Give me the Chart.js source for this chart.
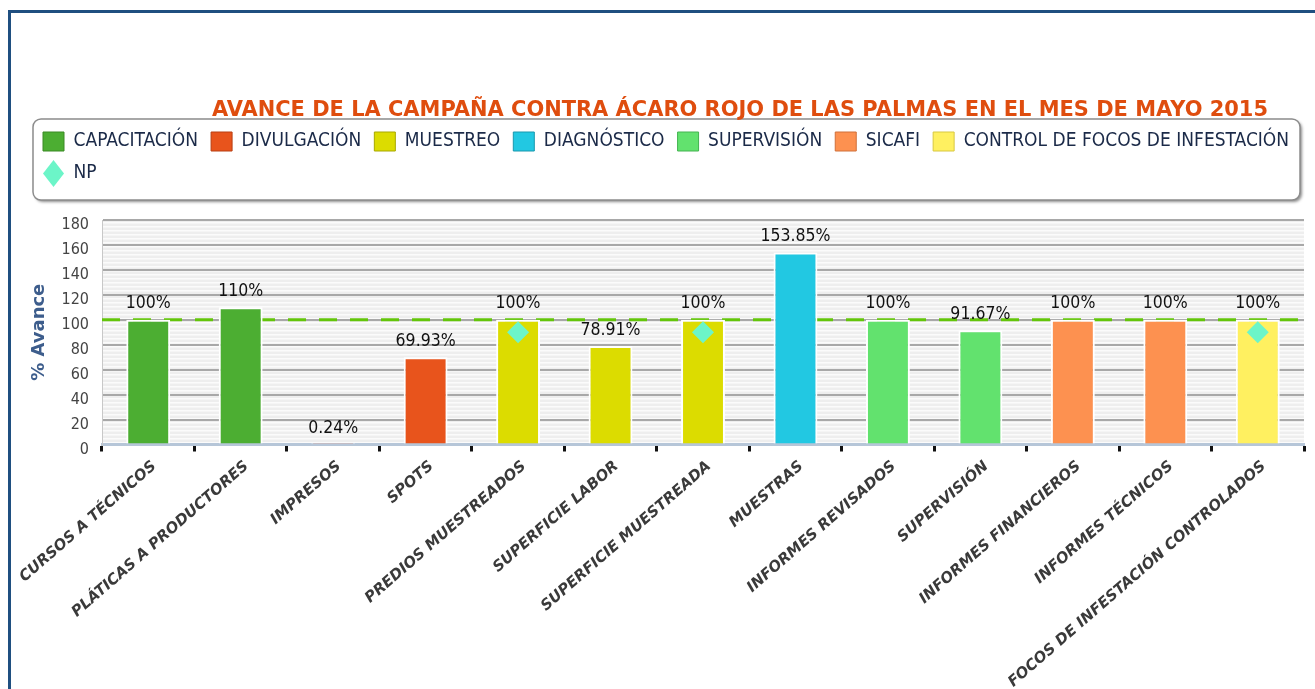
<!DOCTYPE html>
<html><head><meta charset="utf-8">
<script src="https://cdn.jsdelivr.net/npm/chart.js@4.4.1/dist/chart.umd.min.js"></script>
<style>
html,body{margin:0;padding:0;background:#fff;overflow:hidden;width:1315px;height:689px;}
#frame{position:absolute;left:8px;top:10px;width:1400px;height:800px;border-left:3px solid #1f4f80;border-top:3px solid #1f4f80;}
canvas{position:absolute;left:0;top:0;}
</style></head><body>
<div id="frame"></div>
<canvas id="c" width="1315" height="689"></canvas>
<script>
const TITLE = 'AVANCE DE LA CAMPAÑA CONTRA ÁCARO ROJO DE LAS PALMAS EN EL MES DE MAYO 2015';
const Y_TITLE = '% Avance';
const CATEGORIES = ['CURSOS A TÉCNICOS','PLÁTICAS A PRODUCTORES','IMPRESOS','SPOTS','PREDIOS MUESTREADOS','SUPERFICIE LABOR','SUPERFICIE MUESTREADA','MUESTRAS','INFORMES REVISADOS','SUPERVISIÓN','INFORMES FINANCIEROS','INFORMES TÉCNICOS','FOCOS DE INFESTACIÓN CONTROLADOS'];
const GROUPS = ['CAPACITACIÓN','DIVULGACIÓN','MUESTREO','DIAGNÓSTICO','SUPERVISIÓN','SICAFI','CONTROL DE FOCOS DE INFESTACIÓN'];
const GROUP_OF = [0,0,1,1,2,2,2,3,4,4,5,5,6];
const AVANCE = [100,110,0.24,69.93,100,78.91,100,153.85,100,91.67,100,100,100];
const NP_LABEL = 'NP';
const NP = [null,null,null,null,90,null,90,null,null,null,null,null,90];
const META = 100;
const Y_MIN = 0, Y_MAX = 180, Y_STEP = 20;

const COLORS = ['#4cae32','#e8541c','#dcdc00','#22c8e2','#62e26e','#fd9150','#fff060'];
const EDGE = ['#3a8a24','#b83e12','#a8a800','#1898ae','#44b450','#d0703a','#d8c840'];
const NP_COLOR = '#6cf5c8';
const CONDENSED = "'DejaVu Sans Condensed','Liberation Sans Narrow','DejaVu Sans',sans-serif";
const SANS = "'DejaVu Sans',sans-serif";

const datasets = GROUPS.map((g, gi) => ({
  type: 'bar',
  label: g,
  data: AVANCE.map((v, i) => GROUP_OF[i] === gi ? v : null),
  backgroundColor: COLORS[gi],
  borderColor: '#ffffff',
  borderWidth: 2,
  borderSkipped: 'start',
  grouped: false,
  barPercentage: 0.475,
  categoryPercentage: 1
}));
datasets.push({
  type: 'line',
  label: NP_LABEL,
  data: NP,
  showLine: false,
  pointStyle: 'rectRot',
  pointRadius: 11,
  pointBackgroundColor: NP_COLOR,
  backgroundColor: NP_COLOR,
  pointBorderWidth: 0,
  borderWidth: 0,
  order: -1
});

const decor = {
  id: 'decor',
  beforeDraw(chart) {
    const {ctx, chartArea: a, legend: l} = chart;
    ctx.save();
    ctx.fillStyle = '#eeeeee';
    ctx.fillRect(a.left, a.top, a.right - a.left, a.bottom - a.top);
    ctx.fillStyle = '#fbfbfb';
    for (let y = a.top + 2; y < a.bottom; y += 4) ctx.fillRect(a.left, y, a.right - a.left, 1.5);
    const x0 = l.left + 3, y0 = l.top, x1 = l.right - 14, y1 = l.bottom + 7;
    ctx.shadowColor = 'rgba(0,0,0,0.45)'; ctx.shadowBlur = 3; ctx.shadowOffsetX = 2; ctx.shadowOffsetY = 2;
    ctx.beginPath(); ctx.roundRect(x0, y0, x1 - x0, y1 - y0, 8);
    ctx.fillStyle = '#fff'; ctx.fill();
    ctx.shadowColor = 'transparent';
    ctx.lineWidth = 1.5; ctx.strokeStyle = '#8c8c8c'; ctx.stroke();
    ctx.restore();
  },
  beforeDatasetsDraw(chart) {
    const {ctx, chartArea: a, scales: {y}} = chart;
    const py = y.getPixelForValue(META);
    ctx.save();
    ctx.setLineDash([18, 13]);
    ctx.lineWidth = 3;
    ctx.strokeStyle = '#63c50a';
    ctx.beginPath(); ctx.moveTo(a.left, py); ctx.lineTo(a.right, py); ctx.stroke();
    ctx.restore();
  },
  afterDatasetsDraw(chart) {
    const {ctx} = chart;
    ctx.save();
    ctx.font = "17.5px " + CONDENSED;
    ctx.fillStyle = '#111';
    ctx.textAlign = 'center';
    ctx.textBaseline = 'middle';
    chart.data.datasets.forEach((ds, di) => {
      if (ds.type !== 'bar') return;
      const meta = chart.getDatasetMeta(di);
      meta.data.forEach((el, i) => {
        const v = ds.data[i];
        if (v === null || v === undefined) return;
        ctx.fillText(String(v) + '%', el.x, el.y - 16);
      });
    });
    ctx.restore();
  },
  afterDraw(chart) {
    const {ctx} = chart;
    ctx.save();
    ctx.font = "bold 20.95px " + SANS;
    ctx.fillStyle = '#df4d0e';
    ctx.textAlign = 'right';
    ctx.textBaseline = 'alphabetic';
    ctx.fillText(TITLE, chart.width - 47, 116);
    ctx.restore();
  }
};

new Chart(document.getElementById('c'), {
  data: {labels: CATEGORIES, datasets},
  plugins: [decor],
  options: {
    responsive: false,
    animation: false,
    devicePixelRatio: 1,
    events: [],
    layout: {padding: {left: 30, right: 1, top: 119, bottom: 0}},
    plugins: {
      title: {display: false},
      subtitle: {display: true, text: '', weight: 500, padding: 0, font: {size: 27, lineHeight: 1}},
      tooltip: {enabled: false},
      legend: {
        position: 'top',
        align: 'start',
        labels: {
          usePointStyle: true,
          pointStyleWidth: 21,
          boxWidth: 21,
          boxHeight: 19,
          padding: 13,
          color: '#1b2a48',
          font: {family: CONDENSED, size: 19},
          sort: (a, b) => a.datasetIndex - b.datasetIndex,
          generateLabels(chart) {
            const items = Chart.defaults.plugins.legend.labels.generateLabels(chart);
            items.forEach(it => {
              const gi = it.datasetIndex;
              if (gi < GROUPS.length) {
                it.pointStyle = 'rect';
                it.fillStyle = COLORS[gi];
                it.strokeStyle = EDGE[gi];
                it.lineWidth = 1;
              } else {
                it.pointStyle = 'rectRot';
                it.fillStyle = NP_COLOR;
                it.strokeStyle = NP_COLOR;
                it.lineWidth = 0;
              }
            });
            return items;
          }
        }
      }
    },
    scales: {
      x: {
        type: 'category',
        offset: true,
        grid: {display: true, drawOnChartArea: false, drawTicks: true, tickLength: 7, tickWidth: 3, tickColor: '#111', offset: true},
        border: {display: true, color: '#b6c6d8', width: 3},
        ticks: {autoSkip: false, maxRotation: 41, minRotation: 41, color: '#3a3a3a', padding: 6, labelOffset: 6,
          font: {family: SANS, size: 15, weight: 'bold', style: 'italic'}},
        afterFit(s) { s.height = 244.5; s.paddingLeft = 0; s.paddingRight = 0; }
      },
      y: {
        min: Y_MIN, max: Y_MAX,
        ticks: {stepSize: Y_STEP, color: '#444', padding: 13, labelOffset: 5, font: {family: CONDENSED, size: 16}},
        grid: {color: '#a8a8a8', lineWidth: 2, drawTicks: false},
        border: {display: true, color: '#c8c8c8', width: 1},
        title: {display: true, text: Y_TITLE, color: '#3d5d8c', padding: 0, font: {family: SANS, size: 18, weight: 'bold', lineHeight: 1}},
        afterFit(s) { s.width = 72; }
      }
    }
  }
});
</script></body></html>
